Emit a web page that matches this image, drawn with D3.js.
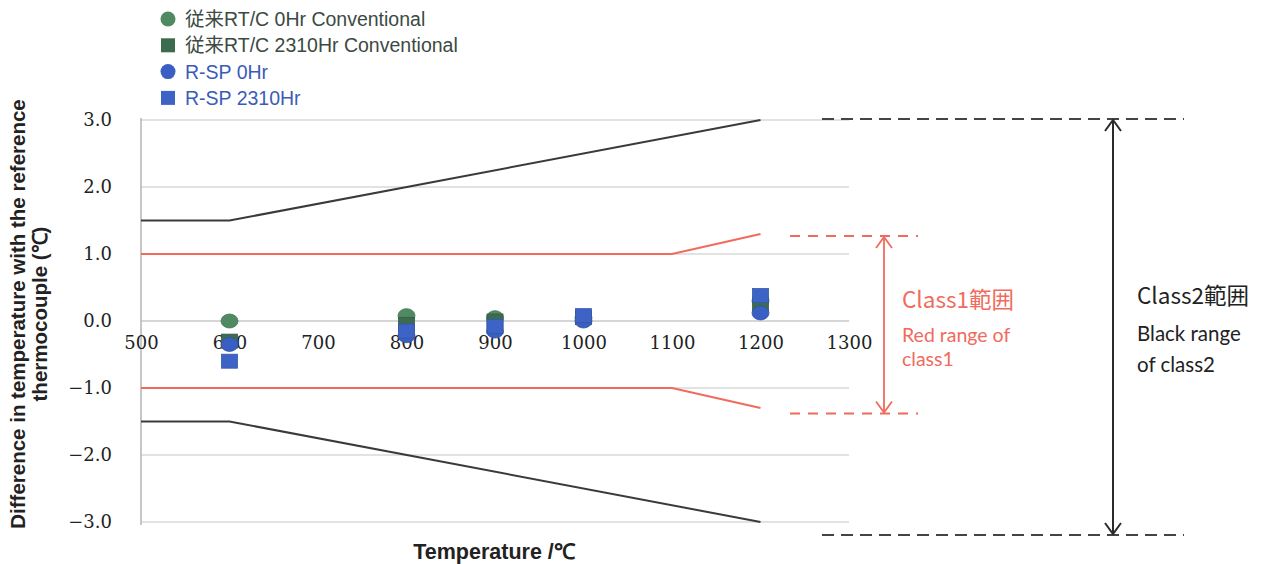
<!DOCTYPE html>
<html><head><meta charset="utf-8">
<script src="https://cdn.jsdelivr.net/npm/d3@7"></script>
<style>body{margin:0;background:#fff;} svg{display:block;}</style>
</head><body>
<svg id="c" width="1261" height="564"></svg>
<script>
// ---- data ----
const temps = [600, 800, 900, 1000, 1200];
const convCircle0Hr   = [0.00, 0.08, 0.05, 0.05, 0.30];
const convSquare2310Hr = [-0.30, -0.05, 0.00, 0.05, 0.25];
const rspCircle0Hr    = [-0.35, -0.22, -0.15, 0.00, 0.12];
const rspSquare2310Hr = [-0.60, -0.15, -0.08, 0.08, 0.38];
const xTicks = [500, 600, 700, 800, 900, 1000, 1100, 1200, 1300];
const yTicks = [3, 2, 1, 0, -1, -2, -3];
const class2Upper = [[500, 1.5], [600, 1.5], [1200, 3.0]];
const class2Lower = [[500, -1.5], [600, -1.5], [1200, -3.0]];
const class1Upper = [[500, 1.0], [1100, 1.0], [1200, 1.3]];
const class1Lower = [[500, -1.0], [1100, -1.0], [1200, -1.3]];
const legendItems = [
  {label: "従来RT/C 0Hr Conventional", shape: "circle", color: "#4f8a63", text: "#3b4a42"},
  {label: "従来RT/C 2310Hr Conventional", shape: "square", color: "#3d6b50", text: "#3b4a42"},
  {label: "R-SP 0Hr", shape: "circle", color: "#3a5fc2", text: "#3a5cb8"},
  {label: "R-SP 2310Hr", shape: "square", color: "#3d63c6", text: "#3a5cb8"}
];

const svg = d3.select("#c");
const x = d3.scaleLinear().domain([500, 1300]).range([141, 849]);
const y = d3.scaleLinear().domain([-3, 3]).range([522, 120]);

// gridlines
svg.append("g").selectAll("line").data(yTicks).join("line")
  .attr("x1", x(500)).attr("x2", x(1300))
  .attr("y1", d => y(d)).attr("y2", d => y(d))
  .attr("stroke", d => d === 0 ? "#c8c8c8" : "#d9d9d9").attr("stroke-width", 1.5);
// y axis line
svg.append("line").attr("x1", x(500)).attr("x2", x(500)).attr("y1", y(3) - 2).attr("y2", y(-3) + 3)
  .attr("stroke", "#b5b5b5").attr("stroke-width", 1.5);

const tickFont = "'DejaVu Serif', serif";
// y tick labels
const yAxis = d3.axisLeft(y).tickValues(yTicks).tickFormat(d3.format(".1f")).tickSize(0).tickPadding(29);
const gy = svg.append("g").attr("transform", `translate(${x(500)},0)`).call(yAxis);
gy.select(".domain").remove();
gy.selectAll("text").attr("font-family", tickFont).attr("font-size", 18).attr("fill", "#222");

// x tick labels along zero line
const xAxis = d3.axisBottom(x).tickValues(xTicks).tickFormat(d3.format("d")).tickSize(0).tickPadding(15);
const gx = svg.append("g").attr("transform", `translate(0,${y(0)})`).call(xAxis);
gx.select(".domain").remove();
gx.selectAll("text").attr("font-family", tickFont).attr("font-size", 18).attr("fill", "#222");

// limit lines
const line = d3.line().x(d => x(d[0])).y(d => y(d[1]));
[[class2Upper, "#3a3a3a"], [class2Lower, "#3a3a3a"], [class1Upper, "#f06b5c"], [class1Lower, "#f06b5c"]].forEach(([d, c]) => {
  svg.append("path").datum(d).attr("d", line).attr("fill", "none").attr("stroke", c).attr("stroke-width", 2);
});

// markers
function drawSeries(vals, shape, color) {
  const g = svg.append("g");
  const data = temps.map((t, i) => [t, vals[i]]);
  if (shape === "circle") {
    g.selectAll("ellipse").data(data).join("ellipse")
      .attr("cx", d => x(d[0])).attr("cy", d => y(d[1])).attr("rx", 8.5).attr("ry", 7)
      .attr("fill", color).attr("stroke", d3.color(color).darker(0.4)).attr("stroke-width", 0.8);
  } else {
    g.selectAll("rect").data(data).join("rect")
      .attr("x", d => x(d[0]) - 8).attr("y", d => y(d[1]) - 7).attr("width", 16).attr("height", 14)
      .attr("fill", color).attr("stroke", d3.color(color).darker(0.4)).attr("stroke-width", 0.8);
  }
}
drawSeries(convCircle0Hr, "circle", legendItems[0].color);
drawSeries(convSquare2310Hr, "square", legendItems[1].color);
drawSeries(rspCircle0Hr, "circle", legendItems[2].color);
drawSeries(rspSquare2310Hr, "square", legendItems[3].color);

// legend
const lg = svg.append("g");
legendItems.forEach((it, i) => {
  const cy = 19 + i * 26.3;
  if (it.shape === "circle") lg.append("circle").attr("cx", 168).attr("cy", cy).attr("r", 7.5).attr("fill", it.color);
  else lg.append("rect").attr("x", 161).attr("y", cy - 7).attr("width", 14).attr("height", 14).attr("fill", it.color);
  lg.append("text").attr("x", 185).attr("y", cy + 7).text(it.label)
    .attr("font-family", "Liberation Sans, 'Noto Sans CJK JP', sans-serif").attr("font-size", 19.5).attr("fill", it.text);
});

// axis titles
svg.append("text").attr("x", 494).attr("y", 559).attr("text-anchor", "middle")
  .attr("font-family", "Liberation Sans, Arial, sans-serif").attr("font-weight", "bold").attr("font-size", 21.5).attr("fill", "#222")
  .text("Temperature /℃");
const yt = svg.append("text").attr("transform", "translate(25,314) rotate(-90)").attr("text-anchor", "middle")
  .attr("font-family", "Liberation Sans, Arial, sans-serif").attr("font-weight", "bold").attr("font-size", 20.5).attr("fill", "#222");
yt.append("tspan").attr("x", 0).attr("y", 0).text("Difference in temperature with the reference");
yt.append("tspan").attr("x", 0).attr("y", 22).text("thermocouple (℃)");

// class1 annotation
const red = "#f06b5c";
const r1Top = y(1.27), r1Bot = y(-1.38);
[r1Top, r1Bot].forEach(yy => svg.append("line").attr("x1", 790).attr("x2", 918).attr("y1", yy).attr("y2", yy)
  .attr("stroke", red).attr("stroke-width", 2).attr("stroke-dasharray", "10,8"));
svg.append("line").attr("x1", 884).attr("x2", 884).attr("y1", r1Top + 1).attr("y2", r1Bot - 1).attr("stroke", red).attr("stroke-width", 1.8);
svg.append("path").attr("d", `M876,${r1Top + 12}L884,${r1Top + 1}L892,${r1Top + 12}M876,${r1Bot - 12}L884,${r1Bot - 1}L892,${r1Bot - 12}`)
  .attr("fill", "none").attr("stroke", red).attr("stroke-width", 1.8);
svg.append("text").attr("x", 902).attr("y", 308).text("Class1範囲")
  .attr("font-family", "'Noto Sans CJK JP', sans-serif").attr("font-size", 22.5).attr("fill", red);
svg.append("text").attr("x", 902).attr("y", 342).text("Red range of").attr("font-family", "Lato, sans-serif").attr("font-size", 19.5).attr("fill", red);
svg.append("text").attr("x", 902).attr("y", 366).text("class1").attr("font-family", "Lato, sans-serif").attr("font-size", 19.5).attr("fill", red);

// class2 annotation
const blk = "#2b2b2b";
const r2Top = 119, r2Bot = 535;
[r2Top, r2Bot].forEach(yy => svg.append("line").attr("x1", 822).attr("x2", 1184).attr("y1", yy).attr("y2", yy)
  .attr("stroke", "#444").attr("stroke-width", 2).attr("stroke-dasharray", "12,7"));
svg.append("line").attr("x1", 1113).attr("x2", 1113).attr("y1", r2Top + 1).attr("y2", r2Bot - 1).attr("stroke", blk).attr("stroke-width", 2);
svg.append("path").attr("d", `M1105,${r2Top + 12}L1113,${r2Top + 1}L1121,${r2Top + 12}M1105,${r2Bot - 12}L1113,${r2Bot - 1}L1121,${r2Bot - 12}`)
  .attr("fill", "none").attr("stroke", blk).attr("stroke-width", 2);
svg.append("text").attr("x", 1137).attr("y", 304).text("Class2範囲")
  .attr("font-family", "'Noto Sans CJK JP', sans-serif").attr("font-size", 22.5).attr("fill", "#222");
svg.append("text").attr("x", 1137).attr("y", 341).text("Black range").attr("font-family", "Lato, sans-serif").attr("font-size", 20.5).attr("fill", "#222");
svg.append("text").attr("x", 1137).attr("y", 372).text("of class2").attr("font-family", "Lato, sans-serif").attr("font-size", 20.5).attr("fill", "#222");
</script>
</body></html>
